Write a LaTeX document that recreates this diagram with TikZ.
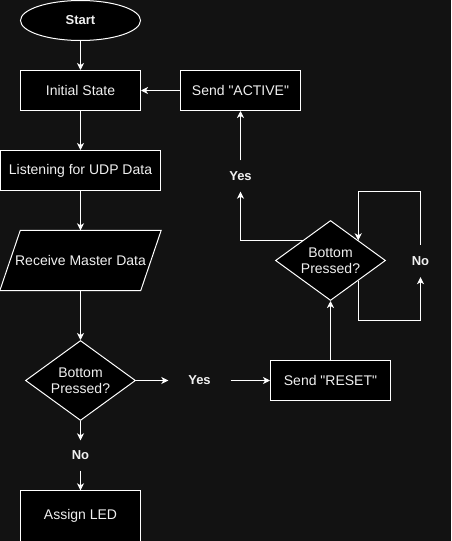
\documentclass[tikz,border=0pt]{standalone}
\usepackage{fontspec}
\setmainfont{Liberation Sans}[Ligatures=TeXOff]
\usetikzlibrary{shapes.geometric,arrows.meta,calc,backgrounds}
\definecolor{bg}{RGB}{18,18,18}
\definecolor{txt}{RGB}{240,240,240}
\begin{document}
\begin{tikzpicture}[x=1pt,y=-1pt,
  every node/.style={font=\fontsize{14}{16}\selectfont, text=txt, inner sep=0pt},
  box/.style={draw=white, fill=black, line width=1pt, minimum width=120pt, minimum height=40pt},
  term/.style={ellipse, draw=white, fill=black, line width=1pt, minimum width=120pt, minimum height=40pt, font=\fontsize{13}{15}\selectfont\bfseries},
  decision/.style={diamond, draw=white, fill=black, line width=1pt, aspect=1.375, minimum width=110pt, minimum height=80pt, align=center},
  iotext/.style={minimum width=161pt, minimum height=60pt},
  ioshape/.style={draw=white, fill=black, line width=1pt, line join=miter},
  lbl/.style={font=\fontsize{13}{15}\selectfont\bfseries},
  arr/.style={draw=white, line width=1pt, -{Stealth[length=7pt,width=7pt,inset=2pt]}}
]
\useasboundingbox (0,0) rectangle (451,541);
\node[term] (start) at (80.5,20.5) {Start};
\node[box] (init) at (80.5,90.5) {Initial State};
\node[box, minimum width=160pt] (listen) at (80.5,170.5) {Listening for UDP Data};
\node[iotext] (recv) at (80.5,260.5) {Receive Master Data};
\node[decision] (d1) at (80.5,380.5) {Bottom\\Pressed?};
\node[lbl, minimum width=62pt, minimum height=20pt] (yes1) at (199.5,380.5) {Yes};
\node[box] (reset) at (330.5,380.5) {Send "RESET"};
\node[lbl, minimum width=30pt, minimum height=30pt] (no1) at (80.5,455.5) {No};
\node[minimum width=120pt, minimum height=50pt] (led) at (80.5,515.5) {Assign LED};
\node[box] (active) at (240.5,90.5) {Send "ACTIVE"};
\node[decision] (d2) at (330.5,260.5) {Bottom\\Pressed?};
\node[lbl, minimum width=30pt, minimum height=31pt] (yes2) at (240.5,176) {Yes};
\node[lbl, minimum width=30pt, minimum height=32pt] (no2) at (420.5,261) {No};

\begin{scope}[on background layer]
\fill[bg] (0,0) rectangle (451,541);
\draw[ioshape] ($(recv.north west)+(20.5,0)$) -- (recv.north east) -- ($(recv.south east)+(-20.5,0)$) -- (recv.south west) -- cycle;
\draw[ioshape] (led.north west) rectangle ($(led.south east)+(0,10)$);
\end{scope}

\coordinate (d2ul) at ($(d2.west)!0.5!(d2.north)$);
\coordinate (d2ur) at ($(d2.north)!0.5!(d2.east)$);
\coordinate (d2lr) at ($(d2.south)!0.5!(d2.east)$);
\coordinate (looptop) at (420.5,191);

\draw[arr] (start) -- (init);
\draw[arr] (init) -- (listen);
\draw[arr] (listen) -- (recv);
\draw[arr] (recv) -- (d1);
\draw[arr] (d1) -- (yes1);
\draw[arr] (yes1) -- (reset);
\draw[arr] (d1) -- (no1);
\draw[arr] (no1) -- (led);
\draw[arr] (reset) -- (d2);
\draw[arr] (d2ul) -| (yes2);
\draw[arr] (yes2) -- (active);
\draw[arr] (active) -- (init);
\draw[arr] (d2lr) -- ++(0,40) -| (no2);
\draw[arr] (no2.north) -- (looptop) -| (d2ur);
\end{tikzpicture}
\end{document}
